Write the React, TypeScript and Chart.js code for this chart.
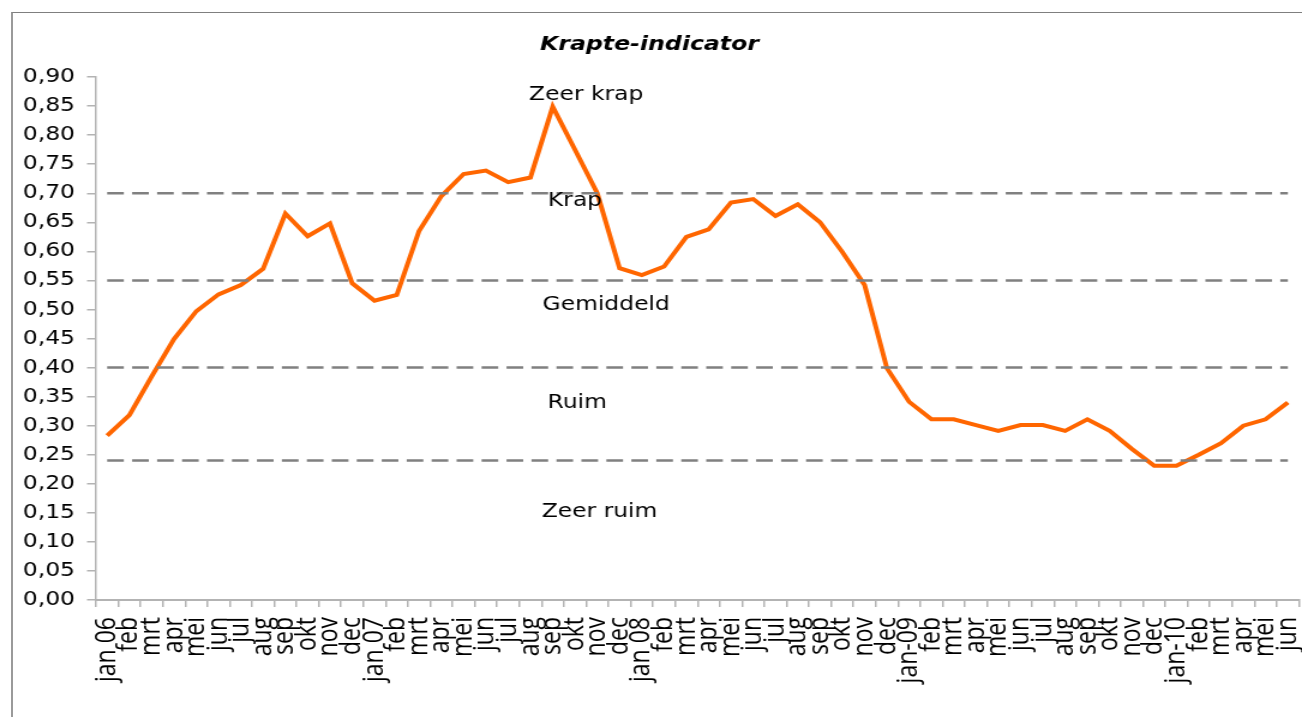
import { useEffect, useRef } from "react";
import { Chart, registerables } from "chart.js";

Chart.register(...registerables);

const categories = [
  "jan 06", "feb", "mrt", "apr", "mei", "jun", "jul", "aug", "sep", "okt", "nov", "dec",
  "jan 07", "feb", "mrt", "apr", "mei", "jun", "jul", "aug", "sep", "okt", "nov", "dec",
  "jan 08", "feb", "mrt", "apr", "mei", "jun", "jul", "aug", "sep", "okt", "nov", "dec",
  "jan-09", "feb", "mrt", "apr", "mei", "jun", "jul", "aug", "sep", "okt", "nov", "dec",
  "jan-10", "feb", "mrt", "apr", "mei", "jun",
];

const krapte2006 = [0.283, 0.318, 0.385, 0.449, 0.497, 0.526, 0.542, 0.570, 0.665, 0.626, 0.648, 0.545];
const krapte2007 = [0.515, 0.525, 0.635, 0.695, 0.733, 0.739, 0.719, 0.727, 0.849, 0.775, 0.700, 0.571];
const krapte2008 = [0.559, 0.574, 0.625, 0.638, 0.684, 0.690, 0.661, 0.681, 0.650, 0.599, 0.542, 0.399];
const krapte2009 = [0.341, 0.311, 0.311, 0.301, 0.291, 0.301, 0.301, 0.291, 0.311, 0.291, 0.260, 0.231];
const krapte2010 = [0.231, 0.250, 0.270, 0.300, 0.311, 0.340];
const krapte = [...krapte2006, ...krapte2007, ...krapte2008, ...krapte2009, ...krapte2010];

const thresholds = [0.70, 0.55, 0.40, 0.24];

const yTickLabels = [
  "0,00", "0,05", "0,10", "0,15", "0,20", "0,25", "0,30", "0,35", "0,40", "0,45",
  "0,50", "0,55", "0,60", "0,65", "0,70", "0,75", "0,80", "0,85", "0,90",
];

const zoneLabels = ["Zeer krap", "Krap", "Gemiddeld", "Ruim", "Zeer ruim"];
const zoneLabelValues = [0.869, 0.687, 0.507, 0.339, 0.152];
const zoneLabelCategory = [21.5, 21.0, 22.4, 21.1, 22.1];

const SX = 1.2;
const W = Math.round(1302 / SX);
const H = 717;

const zoneLabelPlugin = {
  id: "zoneLabels",
  afterDatasetsDraw(chart: any) {
    const { ctx, scales } = chart;
    const x = scales.x;
    const y = scales.y;
    ctx.save();
    ctx.font = "19.5px 'DejaVu Sans'";
    ctx.fillStyle = "#000";
    ctx.textAlign = "center";
    ctx.textBaseline = "middle";
    zoneLabels.forEach((t, i) => {
      ctx.fillText(t, x.getPixelForValue(zoneLabelCategory[i]), y.getPixelForValue(zoneLabelValues[i]));
    });
    ctx.restore();
  },
};

export default function App() {
  const ref = useRef<HTMLCanvasElement | null>(null);

  useEffect(() => {
    if (!ref.current) return;
    const thresholdSets = thresholds.map((t) => ({
      label: "grens " + t,
      data: categories.map(() => t),
      borderColor: "#808080",
      borderWidth: 2.5,
      borderDash: [13.9, 6.9],
      pointRadius: 0,
      fill: false,
      tension: 0,
    }));
    const chart = new Chart(ref.current, {
      type: "line",
      data: {
        labels: categories,
        datasets: [
          ...thresholdSets,
          {
            label: "Krapte-indicator",
            data: krapte,
            borderColor: "#ff6600",
            borderWidth: 4,
            pointRadius: 0,
            fill: false,
            tension: 0,
          },
        ],
      },
      options: {
        responsive: false,
        animation: false,
        devicePixelRatio: 1,
        events: [],
        layout: { padding: { left: 0, right: 2.5, top: 0, bottom: 0 } },
        plugins: {
          legend: { display: false },
          tooltip: { enabled: false },
          title: {
            display: true,
            text: "Krapte-indicator",
            color: "#000",
            font: { family: "'DejaVu Sans'", size: 19.7, weight: "bold", style: "italic" },
            padding: { top: 32.7, bottom: 20.7 },
          },
        },
        scales: {
          x: {
            type: "category",
            offset: true,
            grid: {
              display: true,
              drawOnChartArea: false,
              drawTicks: true,
              tickLength: 7,
              color: "#b3b3b3",
              lineWidth: 1.5,
              offset: true,
            },
            border: { display: true, color: "#b3b3b3", width: 2 },
            ticks: {
              autoSkip: false,
              maxRotation: 90,
              minRotation: 90,
              padding: 10,
              color: "#000",
              font: { family: "'Open Sans'", size: 23 },
            },
            afterFit: (s: any) => {
              s.height = 117;
              s.paddingLeft = 0;
              s.paddingRight = 0;
            },
          },
          y: {
            min: 0,
            max: 0.9,
            grid: {
              display: true,
              drawOnChartArea: false,
              drawTicks: true,
              tickLength: 7.5,
              color: "#b3b3b3",
              lineWidth: 1.5,
            },
            border: { display: true, color: "#b3b3b3", width: 1.5 },
            ticks: {
              stepSize: 0.05,
              padding: 10,
              color: "#000",
              font: { family: "'DejaVu Sans'", size: 19.5 },
              callback: (v: any) => yTickLabels[Math.round(Number(v) / 0.05)],
            },
            afterFit: (s: any) => {
              s.width = 80;
              s.paddingTop = 0;
              s.paddingBottom = 0;
            },
          },
        },
      },
      plugins: [zoneLabelPlugin],
    } as any);
    return () => chart.destroy();
  }, []);

  return (
    <>
      <div
        style={{
          position: "fixed",
          left: 11,
          top: 12,
          right: -20,
          bottom: -20,
          borderLeft: "2px solid #9a9a9a",
          borderTop: "1px solid #7f7f7f",
          background: "#fff",
        }}
      />
      <canvas
        ref={ref}
        width={W}
        height={H}
        style={{
          position: "fixed",
          left: 0,
          top: 0,
          width: W + "px",
          height: H + "px",
          transform: `scaleX(${SX})`,
          transformOrigin: "0 0",
        }}
      />
    </>
  );
}
